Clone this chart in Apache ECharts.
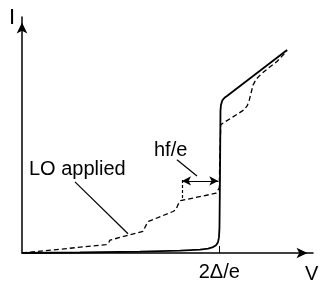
<!DOCTYPE html>
<html>
<head>
<meta charset="utf-8">
<script src="https://cdn.jsdelivr.net/npm/echarts@6/dist/echarts.min.js"></script>
<style>
  html, body { margin: 0; padding: 0; background: #fff; }
  #chart { width: 320px; height: 282px; }
</style>
</head>
<body>
<div id="chart"></div>
<script>
// V in units of Delta/e (gap voltage 2 Delta/e = 2), I in arbitrary units

// IV curve without LO
var solidV = [0, 0.588, 1.196, 1.602, 1.805, 1.886, 1.937, 1.967, 1.987, 1.997, 2.002, 2.007, 2.012, 2.017, 2.031, 2.053, 2.078, 2.687];
var solidI = [0, 0.005, 0.015, 0.025, 0.035, 0.045, 0.060, 0.080, 0.110, 0.161, 0.261, 0.763, 1.446, 1.506, 1.552, 1.579, 1.597, 2.064];

// IV curve with LO applied (photon assisted steps)
var pumpedV = [0, 0.852, 0.877, 0.892, 0.912, 1.227, 1.247, 1.262, 1.282, 1.531, 1.561, 1.582, 1.607, 1.967, 1.987, 2.000, 2.005, 2.015, 2.028, 2.251, 2.282, 2.302, 2.322, 2.342, 2.373, 2.423, 2.494, 2.585, 2.656, 2.687];
var pumpedI = [0, 0.085, 0.100, 0.131, 0.151, 0.221, 0.241, 0.291, 0.321, 0.422, 0.442, 0.492, 0.532, 0.608, 0.623, 0.663, 0.964, 1.306, 1.326, 1.456, 1.496, 1.546, 1.627, 1.707, 1.767, 1.818, 1.878, 1.948, 2.024, 2.059];

var gapV = [2];
var gapLabel = '2Δ/e';

// annotation lines [v, i]
var loLeader = [[0.537, 0.723], [1.075, 0.196]];
var hfLeader = [[1.571, 0.949], [1.774, 0.783]];
var hfArrow = [[1.622, 0.733], [1.990, 0.733]];
var hfExtension = [[1.622, 0.743], [1.622, 0.532]];

function zip(xs, ys) {
    var out = [];
    for (var k = 0; k < xs.length; k++) out.push([xs[k], ys[k]]);
    return out;
}

var font = 'Liberation Sans, Arial, sans-serif';
var chart = echarts.init(document.getElementById('chart'));

var option = {
    animation: false,
    grid: { left: 22, top: 17, right: 7, bottom: 26 },
    xAxis: {
        type: 'value', min: 0, max: 2.95,
        splitLine: { show: false },
        axisLine: {
            onZero: false,
            lineStyle: { color: '#000', width: 1.5 },
            symbol: ['none', 'arrow'], symbolSize: [8, 11], symbolOffset: [0, -5.5]
        },
        axisTick: { show: true, inside: true, length: 7, customValues: gapV, lineStyle: { color: '#000', width: 1 } },
        axisLabel: {
            show: true, customValues: gapV, margin: 9,
            formatter: function () { return gapLabel; },
            color: '#000', fontSize: 20, fontFamily: font
        }
    },
    yAxis: {
        type: 'value', min: 0, max: 2.4,
        splitLine: { show: false },
        axisTick: { show: false },
        axisLabel: { show: false },
        axisLine: {
            onZero: false,
            lineStyle: { color: '#000', width: 1.5 },
            symbol: ['none', 'arrow'], symbolSize: [8, 11], symbolOffset: [0, -5.5]
        }
    },
    series: [{
        name: 'pumped',
        type: 'line',
        data: zip(pumpedV, pumpedI),
        showSymbol: false,
        lineStyle: { color: '#000', width: 1.3, type: [5, 3] },
        z: 2
    }, {
        name: 'unpumped',
        type: 'line',
        data: zip(solidV, solidI),
        showSymbol: false,
        lineStyle: { color: '#000', width: 1.8 },
        z: 3
    }, {
        name: 'notes',
        type: 'line',
        data: [],
        markLine: {
            silent: true,
            animation: false,
            label: { show: false },
            emphasis: { disabled: true },
            symbol: 'none',
            lineStyle: { color: '#000', width: 1.2, type: 'solid' },
            data: [
                [{ coord: loLeader[0] }, { coord: loLeader[1] }],
                [{ coord: hfLeader[0] }, { coord: hfLeader[1] }],
                [{ coord: hfArrow[0], symbol: 'arrow', symbolSize: [7, 9] },
                 { coord: hfArrow[1], symbol: 'arrow', symbolSize: [7, 9] }],
                [{ coord: hfExtension[0], lineStyle: { type: [3, 2] } }, { coord: hfExtension[1] }]
            ]
        }
    }],
    graphic: [
        { type: 'text', left: 9, top: 7, style: { text: 'I', fontSize: 22, fontFamily: font, fill: '#000' } },
        { type: 'text', left: 305, top: 264, style: { text: 'V', fontSize: 20, fontFamily: font, fill: '#000' } },
        { type: 'text', left: 29, top: 159, style: { text: 'LO applied', fontSize: 20, fontFamily: font, fill: '#000' } },
        { type: 'text', left: 154, top: 140, style: { text: 'hf/e', fontSize: 20, fontFamily: font, fill: '#000' } }
    ]
};
chart.setOption(option);
</script>
</body>
</html>
